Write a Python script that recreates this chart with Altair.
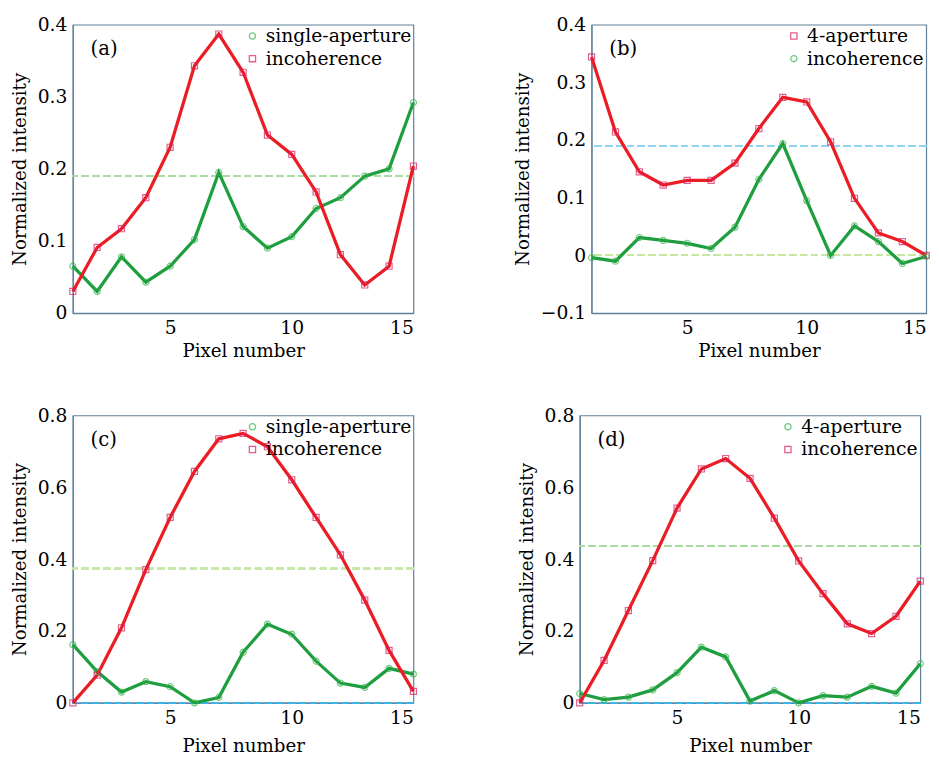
import altair as alt
import pandas as pd

pixels = list(range(1, 16))

# Panel (a)
a_single = [0.065, 0.030, 0.078, 0.043, 0.065, 0.102, 0.195, 0.120, 0.090, 0.106, 0.145, 0.160, 0.190, 0.200, 0.292]
a_incoh = [0.030, 0.091, 0.117, 0.160, 0.230, 0.343, 0.387, 0.334, 0.247, 0.220, 0.168, 0.081, 0.039, 0.065, 0.204]
# Panel (b)
b_four = [0.344, 0.214, 0.145, 0.122, 0.130, 0.130, 0.160, 0.220, 0.274, 0.266, 0.197, 0.099, 0.039, 0.024, 0.000]
b_incoh = [-0.004, -0.010, 0.031, 0.026, 0.021, 0.012, 0.049, 0.132, 0.194, 0.095, 0.000, 0.051, 0.024, -0.014, -0.002]
# Panel (c)
c_single = [0.162, 0.087, 0.030, 0.059, 0.045, 0.000, 0.015, 0.141, 0.219, 0.191, 0.116, 0.055, 0.043, 0.096, 0.080]
c_incoh = [0.000, 0.077, 0.209, 0.371, 0.516, 0.644, 0.735, 0.750, 0.713, 0.621, 0.516, 0.412, 0.286, 0.146, 0.032]
# Panel (d)
d_four = [0.026, 0.009, 0.016, 0.036, 0.084, 0.155, 0.128, 0.005, 0.034, 0.000, 0.020, 0.016, 0.046, 0.027, 0.109]
d_incoh = [0.000, 0.118, 0.257, 0.396, 0.542, 0.651, 0.680, 0.625, 0.514, 0.395, 0.304, 0.220, 0.193, 0.241, 0.339]

panel_labels = ["(a)", "(b)", "(c)", "(d)"]
x_ticks = [5, 10, 15]
a_yticks = [0, 0.1, 0.2, 0.3, 0.4]
b_yticks = [-0.1, 0, 0.1, 0.2, 0.3, 0.4]
cd_yticks = [0, 0.2, 0.4, 0.6, 0.8]
# dashed reference levels (value, colour)
a_rules = [(0.19, "#a8dca0")]
b_rules = [(0.19, "#8fd3f0"), (0.0, "#c8e6a0")]
c_rules = [(0.374, "#c8e6a8"), (0.0, "#3fb4e6")]
d_rules = [(0.436, "#a8dca0"), (0.0, "#3fb4e6")]

RED = "#ec1c24"
GREEN = "#1e9e3e"
MK_RED = "#d81b60"
MK_GREEN = "#35b34a"
FRAME = "#5f8099"
FONT = "DejaVu Serif"


def panel(label, series, ydomain, yticks, rules, width, height, xtitle_pad):
    # series: list of (name, values, kind) in legend order
    rows = []
    for name, vals, kind in series:
        for p, v in zip(pixels, vals):
            rows.append({"pixel": p, "value": v, "series": name})
    df = pd.DataFrame(rows)
    order = [s[0] for s in series]
    mk_cols = [MK_RED if s[2] == "red" else MK_GREEN for s in series]
    shapes = ["square" if s[2] == "red" else "circle" for s in series]

    x = alt.X("pixel:Q", scale=alt.Scale(domain=[1, 15], nice=False),
              axis=alt.Axis(values=x_ticks, title="Pixel number", grid=False,
                            titlePadding=xtitle_pad))
    y = alt.Y("value:Q", scale=alt.Scale(domain=ydomain, nice=False),
              axis=alt.Axis(values=yticks, title="Normalized intensity", grid=False,
                            labelExpr="datum.value == 0 ? '0' : format(datum.value, '.1f')"))

    layers = []
    for val, col in rules:
        layers.append(alt.Chart(df).mark_rule(color=col, strokeDash=[7, 4], strokeWidth=1.3)
                      .encode(y=alt.datum(val)))
    for name, vals, kind in series:
        layers.append(
            alt.Chart(df).transform_filter(alt.datum.series == name)
            .mark_line(strokeWidth=3.3, color=RED if kind == "red" else GREEN)
            .encode(x=x, y=y)
        )
    pts = alt.Chart(df).mark_point(filled=False, strokeWidth=1.2, size=38).encode(
        x=x, y=y,
        color=alt.Color("series:N", scale=alt.Scale(domain=order, range=mk_cols),
                        legend=alt.Legend(title=None, orient="top-right", offset=2, padding=0,
                                          labelFontSize=19, labelFont=FONT, labelColor="black",
                                          symbolStrokeWidth=1.3, symbolSize=40, rowPadding=3,
                                          labelOffset=4)),
        shape=alt.Shape("series:N", scale=alt.Scale(domain=order, range=shapes)),
    )
    txt = alt.Chart(pd.DataFrame({"label": [label]})).mark_text(
        align="left", baseline="middle", fontSize=20, font=FONT
    ).encode(text="label:N", x=alt.value(18), y=alt.value(25))
    layers += [pts, txt]
    return alt.layer(*layers).properties(width=width, height=height)


pa = panel(panel_labels[0], [("single-aperture", a_single, "green"), ("incoherence", a_incoh, "red")],
           [0, 0.4], a_yticks, a_rules, 346, 293, 4)
pb = panel(panel_labels[1], [("4-aperture", b_four, "red"), ("incoherence", b_incoh, "green")],
           [-0.1, 0.4], b_yticks, b_rules, 340, 293, 4)
pc = panel(panel_labels[2], [("single-aperture", c_single, "green"), ("incoherence", c_incoh, "red")],
           [0, 0.8], cd_yticks, c_rules, 346, 292, 9)
pd_ = panel(panel_labels[3], [("4-aperture", d_four, "green"), ("incoherence", d_incoh, "red")],
            [0, 0.8], cd_yticks, d_rules, 346, 292, 9)

top = alt.hconcat(pa, pb, spacing=93).resolve_scale(color="independent", shape="independent")
bottom = alt.hconcat(pc, pd_, spacing=97).resolve_scale(color="independent", shape="independent")

chart = alt.vconcat(top, bottom, spacing=45).resolve_scale(
    color="independent", shape="independent"
).properties(
    padding={"left": 10, "top": 9, "right": 5, "bottom": 0}, background="white"
).configure_view(stroke=FRAME, strokeWidth=1.2).configure_axis(
    domainColor=FRAME, domainWidth=1.2, ticks=False, labelFont=FONT, titleFont=FONT,
    labelFontSize=19, titleFontSize=18.5, titleFontWeight="normal", labelColor="black",
    titleColor="black", labelPadding=6
).configure_axisY(titlePadding=8)

chart.save("out.html", embed_options={"renderer": "svg", "actions": False})
